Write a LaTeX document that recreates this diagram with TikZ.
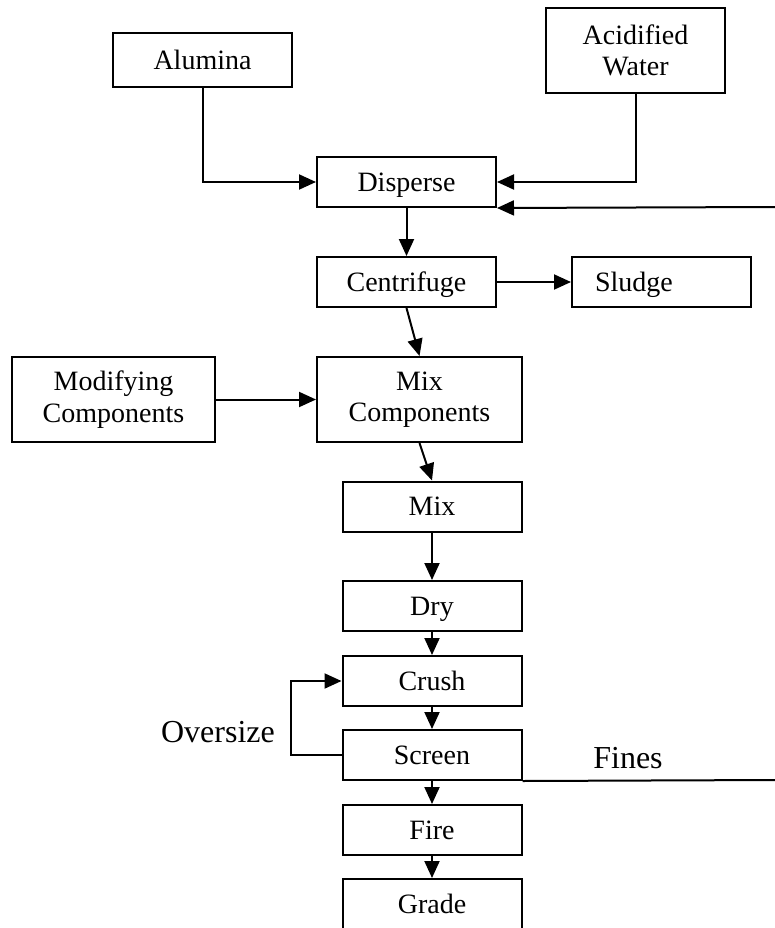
\documentclass[tikz,border=0pt]{standalone}
\usepackage{fontspec}
\setmainfont{Liberation Serif}
\usetikzlibrary{arrows.meta}
\tikzset{
  proc/.style={draw,rectangle,line width=2pt,inner sep=0pt,minimum width=179pt,minimum height=50pt,align=center,font=\fontsize{28}{31.5}\selectfont},
  one/.style={text height=18.5pt,text depth=0pt},
  big/.style={font=\fontsize{32}{34}\selectfont},
  flow/.style={line width=2pt,-{Triangle[length=17pt,width=15pt]}},
  plain/.style={line width=2pt},
}
\begin{document}
\begin{tikzpicture}[x=1pt,y=-1pt]
  \useasboundingbox (0,0) rectangle (775,928);
  \node[proc,one,minimum height=54pt] (alumina) at (202.5,60) {Alumina};
  \node[proc,minimum height=85pt] (acid) at (635.5,50.5) {Acidified\\Water};
  \node[proc,one] (disperse) at (406.5,182) {Disperse};
  \node[proc,one] (centri) at (406.5,282) {Centrifuge};
  \node[proc,one,text width=133pt,inner xsep=23pt,align=left] (sludge) at (661.5,282) {Sludge};
  \node[proc,minimum width=203pt,minimum height=85pt] (modif) at (113.5,399.5) {Modifying\\Components};
  \node[proc,minimum width=205pt,minimum height=85pt] (mixcomp) at (419.5,399.5) {Mix\\Components};
  \node[proc,one] (mix) at (432,506.5) {Mix};
  \node[proc,one] (dry) at (432,606) {Dry};
  \node[proc,one] (crush) at (432,681) {Crush};
  \node[proc,one] (screen) at (432,755) {Screen};
  \node[proc,one] (fire) at (432,830) {Fire};
  \node[proc,one] (grade) at (432,904) {Grade};
  \node[big] (oversize) at (218,732) {Oversize};
  \node[big] (fines) at (628,758) {Fines};
  \coordinate (recycle) at (775,207);
  \coordinate (finesout) at (775,780);
  \draw[flow] (alumina.south) |- (disperse.west);
  \draw[flow] (acid.south) |- (disperse.east);
  \draw[flow] (recycle) -- (disperse.south east);
  \draw[flow] (disperse) -- (centri);
  \draw[flow] (centri) -- (sludge);
  \draw[flow] (centri.south) -- (mixcomp.north);
  \draw[flow] (modif) -- (mixcomp);
  \draw[flow] (mixcomp.south) -- (mix.north);
  \draw[flow] (mix) -- (dry);
  \draw[flow] (dry) -- (crush);
  \draw[flow] (crush) -- (screen);
  \draw[flow] (screen.west) -- ++(-51,0) |- (crush.west);
  \draw[flow] (screen) -- (fire);
  \draw[flow] (fire) -- (grade);
  \draw[plain] (screen.south east) -- (finesout);
\end{tikzpicture}
\end{document}
